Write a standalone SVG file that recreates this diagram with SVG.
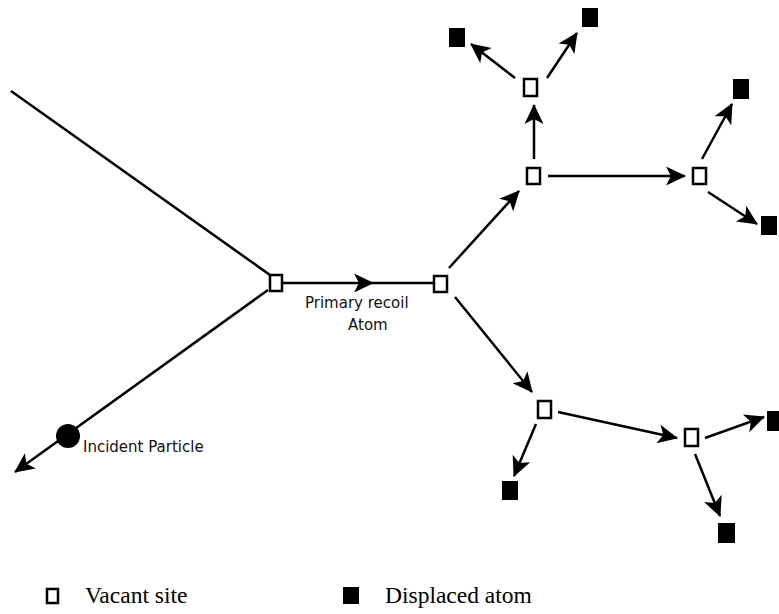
<svg xmlns="http://www.w3.org/2000/svg" width="779" height="614" viewBox="0 0 779 614">
<style>
.vac{fill:#fff;stroke:#000;stroke-width:2.5}
.disp{fill:#000}
.ln{fill:none;stroke:#000;stroke-width:2.5}
.arr{fill:none;stroke:#000;stroke-width:2.5;marker-end:url(#ah)}
.lbl{font-family:"DejaVu Sans",Verdana,sans-serif;font-size:15px;fill:#111}
.leg{font-family:"Liberation Serif","Times New Roman",serif;font-size:23.5px;fill:#000}
</style>
<defs>
<marker id="ah" markerUnits="userSpaceOnUse" markerWidth="26" markerHeight="26" viewBox="-22 -13 26 26" refX="0" refY="0" orient="auto">
<path d="M1,0 L-19,-9.5 L-14,0 L-19,9.5 Z" fill="#000"/>
</marker>
</defs>
<rect width="779" height="614" fill="#fff"/>
<g id="connectors">
<line class="ln" x1="11" y1="91" x2="270" y2="275"/>
<path class="arr" d="M268,290 L15,472"/>
<path class="ln" d="M283,283 H373 H433" style="marker-mid:url(#ah)"/>
<path class="arr" d="M449,268 L519,191"/>
<path class="arr" d="M455,297 L532,392"/>
<path class="arr" d="M534,159 L534,105"/>
<path class="arr" d="M515,78 L471,44"/>
<path class="arr" d="M547,78 L577,33"/>
<path class="arr" d="M548,176 L685,176"/>
<path class="arr" d="M702,159 L732,104"/>
<path class="arr" d="M708,192 L757,224"/>
<path class="arr" d="M558,412 L677,438"/>
<path class="arr" d="M536,424 L514,476"/>
<path class="arr" d="M705,438 L764,417"/>
<path class="arr" d="M695,454 L720,516"/>
</g>
<g id="incident-particle">
<circle cx="68" cy="436" r="12" fill="#000"/>
<text class="lbl" x="83" y="452">Incident Particle</text>
</g>
<g id="v1"><rect class="vac" x="270" y="275" width="12" height="16"/></g>
<g id="primary-label">
<text class="lbl" x="305" y="308">Primary recoil</text>
<text class="lbl" x="348" y="330">Atom</text>
</g>
<g id="v2"><rect class="vac" x="434" y="276" width="13" height="16"/></g>
<g id="v3"><rect class="vac" x="527" y="168" width="13" height="16"/></g>
<g id="v5"><rect class="vac" x="524" y="79" width="13" height="17"/></g>
<g id="v4"><rect class="vac" x="693" y="168" width="13" height="16"/></g>
<g id="v6"><rect class="vac" x="538" y="401" width="13" height="17"/></g>
<g id="v7"><rect class="vac" x="685" y="429" width="13" height="17"/></g>
<g id="d-tl"><rect class="disp" x="449" y="28" width="16" height="19"/></g>
<g id="d-tr"><rect class="disp" x="582" y="8" width="16" height="19"/></g>
<g id="d-rt"><rect class="disp" x="733" y="79" width="16" height="20"/></g>
<g id="d-rb"><rect class="disp" x="761" y="216" width="16" height="19"/></g>
<g id="d-l"><rect class="disp" x="502" y="481" width="16" height="19"/></g>
<g id="d-r"><rect class="disp" x="767" y="411" width="16" height="20"/></g>
<g id="d-b"><rect class="disp" x="718" y="523" width="17" height="20"/></g>
<g id="legend-vacant">
<rect class="vac" x="47" y="589" width="11" height="14"/>
<text class="leg" x="85" y="603">Vacant site</text>
</g>
<g id="legend-displaced">
<rect class="disp" x="343" y="587" width="16" height="17"/>
<text class="leg" x="385" y="603">Displaced atom</text>
</g>
</svg>
